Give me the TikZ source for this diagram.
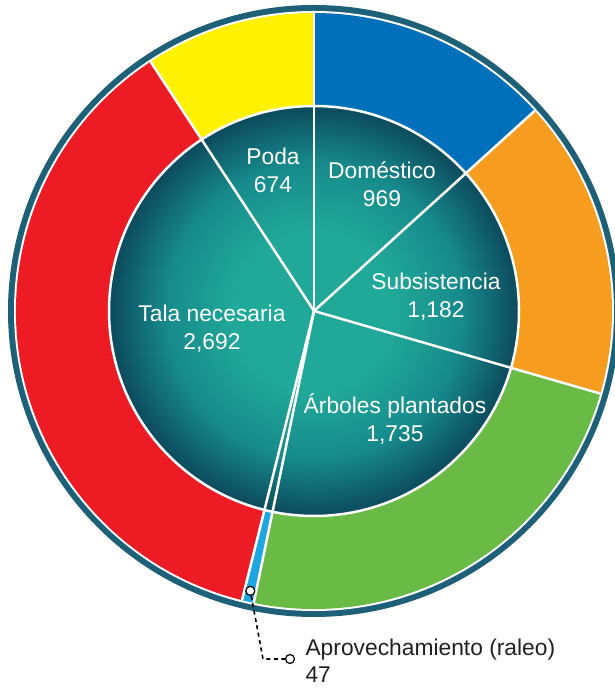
\documentclass[tikz,border=0pt]{standalone}
\usepackage{fontspec}
\setmainfont{Liberation Sans}
\usetikzlibrary{calc}
\definecolor{rimblue}{HTML}{1F6079}
\definecolor{domblue}{HTML}{0070BA}
\definecolor{subsorange}{HTML}{F69C1E}
\definecolor{arbgreen}{HTML}{6ABB46}
\definecolor{aprblue}{HTML}{1EA6E0}
\definecolor{talared}{HTML}{ED1C24}
\definecolor{podayellow}{HTML}{FFF100}
\definecolor{disclight}{HTML}{20A898}
\definecolor{discmid}{HTML}{178A8C}
\definecolor{discdark}{HTML}{0C4A5C}
\definecolor{labelgray}{HTML}{231F20}
\pgfdeclareradialshading{discglow}{\pgfpoint{0bp}{0bp}}{color(0bp)=(disclight); color(10bp)=(disclight); color(18bp)=(discmid); color(25bp)=(discdark); color(50bp)=(discdark)}

\begin{document}
\begin{tikzpicture}[x=1pt, y=1pt,
   sep/.style={white, line width=2.5pt},
   lbl/.style={white, align=center, anchor=base, font=\fontsize{22.8}{28}\selectfont},
   dot/.style={circle, draw=black, fill=white, line width=1.2pt, inner sep=0pt, minimum size=9pt}]
   \useasboundingbox (0,0) rectangle (615,690);
   \coordinate (c) at (314,379);
   \fill[rimblue] (c) circle (306);
   \fill[white] (c) circle (300);
   \foreach \a/\b/\col in {90/42.207/domblue, 42.207/-16.092/subsorange,
      -16.092/-101.665/arbgreen, -101.665/-103.983/aprblue,
      -103.983/-236.757/talared, -236.757/-270/podayellow}
      \fill[\col] (c) -- ++(\a:298) arc[start angle=\a, end angle=\b, radius=298] -- cycle;
   \shade[shading=discglow] (c) circle (205);
   \draw[sep] (c) circle (205);
   \foreach \a in {90, 42.207, -16.092, -101.665, -103.983, 123.243}
      \draw[sep] (c) -- ++(\a:298);

   \node[lbl] (poda) at (273,497) {Poda\\674};
   \node[lbl] (domestico) at (382,483) {Doméstico\\969};
   \node[lbl] (subsistencia) at (436,372) {Subsistencia\\1,182};
   \node[lbl] (arboles) at (395,248) {Árboles plantados\\1,735};
   \node[lbl] (tala) at (212,340) {Tala necesaria\\2,692};

   \node[dot] (aprdot) at ($(c)+(-102.82:287)$) {};
   \coordinate (bend) at (263,31);
   \node[dot] (lbldot) at (290,31) {};
   \draw[black, line width=1.6pt, dash pattern=on 4pt off 3.5pt] (aprdot) -- (bend) -- (lbldot);
   \node[lbl, labelgray, align=left, anchor=base west] (aprovechamiento) at (302,7)
      {Aprovechamiento (raleo)\\47};
\end{tikzpicture}
\end{document}
